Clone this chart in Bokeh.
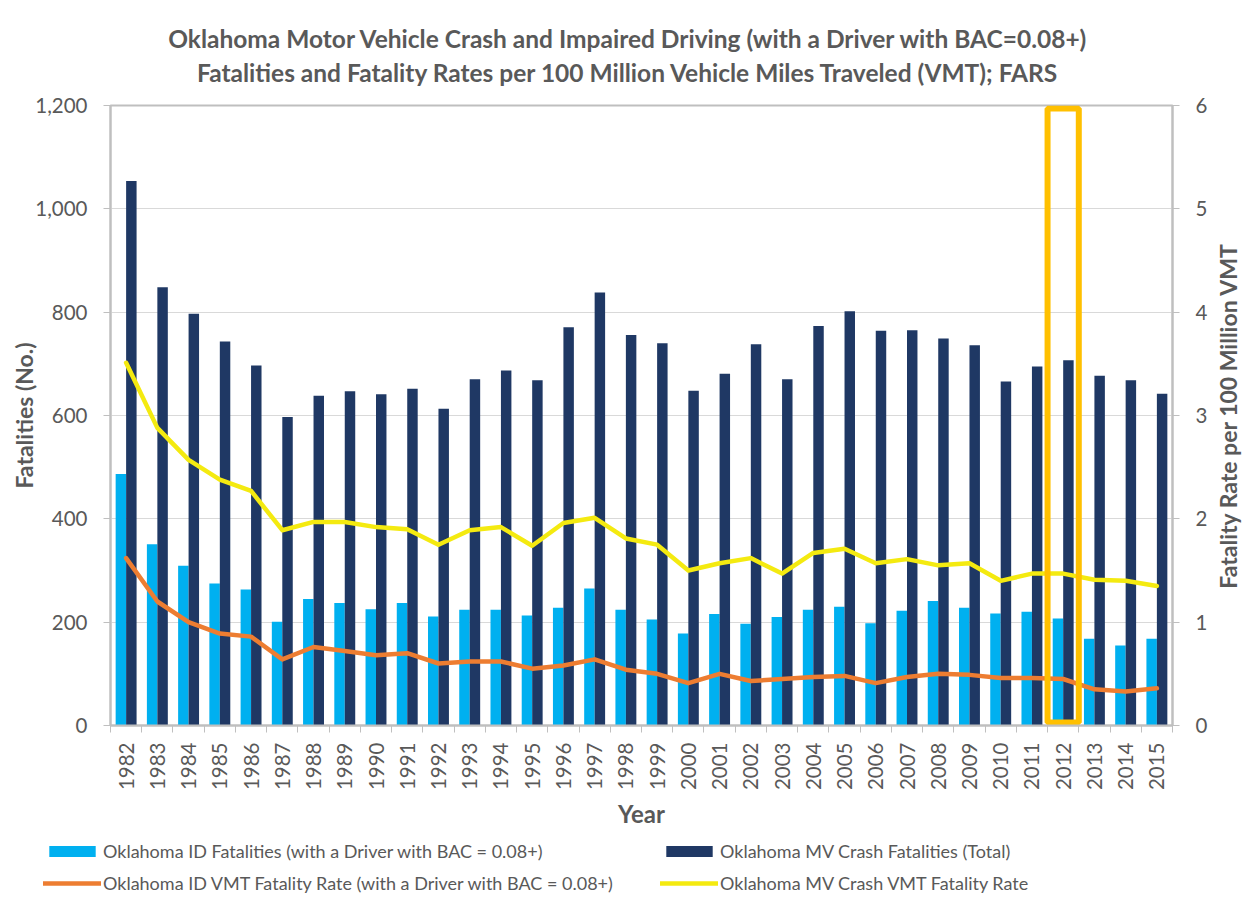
import math
from bokeh.plotting import figure
from bokeh.models import (Range1d, LinearAxis, FixedTicker, NumeralTickFormatter,
                          Legend, LegendItem, Label, ColumnDataSource)
from bokeh.transform import dodge
from bokeh.embed import file_html
from bokeh.resources import INLINE

# ---------------- data ----------------
years = [1982, 1983, 1984, 1985, 1986, 1987, 1988, 1989, 1990, 1991, 1992,
         1993, 1994, 1995, 1996, 1997, 1998, 1999, 2000, 2001, 2002, 2003,
         2004, 2005, 2006, 2007, 2008, 2009, 2010, 2011, 2012, 2013, 2014, 2015]
id_fatalities = [487, 351, 309, 275, 263, 201, 245, 237, 225, 237, 211,
                 224, 224, 213, 228, 265, 224, 205, 178, 216, 197, 210,
                 224, 230, 198, 222, 241, 228, 217, 220, 207, 168, 155, 168]
mv_fatalities = [1054, 848, 797, 743, 697, 597, 638, 647, 641, 652, 613,
                 670, 687, 668, 771, 838, 756, 740, 648, 681, 738, 670,
                 773, 802, 764, 765, 749, 736, 666, 695, 707, 677, 668, 642]
id_rate = [1.62, 1.20, 1.00, 0.89, 0.86, 0.64, 0.76, 0.72, 0.68, 0.70, 0.60,
           0.62, 0.62, 0.55, 0.58, 0.64, 0.54, 0.50, 0.41, 0.50, 0.43, 0.45,
           0.47, 0.48, 0.41, 0.47, 0.50, 0.49, 0.46, 0.46, 0.45, 0.35, 0.33, 0.36]
mv_rate = [3.51, 2.88, 2.57, 2.38, 2.27, 1.89, 1.97, 1.97, 1.92, 1.90, 1.75,
           1.89, 1.92, 1.74, 1.96, 2.01, 1.81, 1.75, 1.50, 1.57, 1.62, 1.47,
           1.67, 1.71, 1.57, 1.61, 1.55, 1.57, 1.40, 1.47, 1.47, 1.41, 1.40, 1.35]
highlight_years = [2012]
left_ticks = [0, 200, 400, 600, 800, 1000, 1200]
right_ticks = [0, 1, 2, 3, 4, 5, 6]
title_lines = ["Oklahoma Motor Vehicle Crash and Impaired Driving (with a Driver with BAC=0.08+)",
               "Fatalities and Fatality Rates per 100 Million Vehicle Miles Traveled (VMT); FARS"]
legend_labels = ["Oklahoma ID Fatalities (with a Driver with BAC = 0.08+)",
                 "Oklahoma MV Crash Fatalities (Total)",
                 "Oklahoma ID VMT Fatality Rate (with a Driver with BAC = 0.08+)",
                 "Oklahoma MV Crash VMT Fatality Rate"]
x_title = "Year"
y_title = "Fatalities (No.)"
y2_title = "Fatality Rate per 100 Million VMT"

# ---------------- style ----------------
FONT = "Lato"
TXT = "#595959"
AX = "#BFBFBF"
C_ID = "#00B0F0"
C_MV = "#1F3864"
C_IDR = "#ED7D31"
C_MVR = "#F4EA10"
C_HL = "#FFC000"
TICK_FS = "20.5px"
AXT_FS = "23px"
W = 1254
H_CHART = 832
H_LEG = 68

src = ColumnDataSource(dict(year=years, idf=id_fatalities, mvf=mv_fatalities,
                            idr=id_rate, mvr=mv_rate))

p = figure(width=W, height=H_CHART, output_backend="svg", toolbar_location=None,
           x_range=Range1d(years[0] - 0.5, years[-1] + 0.5),
           y_range=Range1d(left_ticks[0], left_ticks[-1]),
           min_border_left=110, min_border_right=W - 1172, min_border_top=105,
           min_border_bottom=H_CHART - 725)
p.extra_y_ranges = {"rate": Range1d(right_ticks[0], right_ticks[-1])}
p.background_fill_color = "white"
p.border_fill_color = "white"
p.outline_line_color = AX
p.outline_line_width = 2

bw = 0.335
bar_kw = dict(line_color=None)
line_kw = dict(line_width=4.5, line_cap="round", line_join="round")
p.vbar(x=dodge("year", -bw / 2), top="idf", width=bw, source=src, fill_color=C_ID, **bar_kw)
p.vbar(x=dodge("year", bw / 2), top="mvf", width=bw, source=src, fill_color=C_MV, **bar_kw)
p.line("year", "idr", source=src, y_range_name="rate", line_color=C_IDR, **line_kw)
p.line("year", "mvr", source=src, y_range_name="rate", line_color=C_MVR, **line_kw)

# highlight box around a year
inset = 3 * (left_ticks[-1] - left_ticks[0]) / 620.0
p.quad(left=[y - 0.5 for y in highlight_years], right=[y + 0.5 for y in highlight_years],
       bottom=[left_ticks[0] + inset] * len(highlight_years),
       top=[left_ticks[-1] - inset] * len(highlight_years),
       fill_color=None, line_color=C_HL, line_width=6)

# grid
p.xgrid.grid_line_color = None
p.ygrid.grid_line_color = "#D9D9D9"
p.ygrid.grid_line_width = 1

# x axis
xa = p.xaxis[0]
xa.ticker = FixedTicker(ticks=years, minor_ticks=[y - 0.5 for y in years] + [years[-1] + 0.5])
xa.major_label_overrides = {y: str(y) for y in years}
xa.major_tick_line_color = None
xa.major_tick_out = 0
xa.major_tick_in = 0
xa.minor_tick_out = 7
xa.minor_tick_in = 0
xa.minor_tick_line_color = AX
xa.axis_line_color = AX
xa.axis_line_width = 2
xa.major_label_orientation = math.pi / 2
xa.major_label_standoff = 10
xa.major_label_text_font = FONT
xa.major_label_text_font_size = TICK_FS
xa.major_label_text_color = TXT
xa.axis_label = x_title
xa.axis_label_standoff = 6
xa.axis_label_text_font = FONT
xa.axis_label_text_font_style = "bold"
xa.axis_label_text_font_size = "24px"
xa.axis_label_text_color = TXT

# left axis
ya = p.yaxis[0]
ya.ticker = FixedTicker(ticks=left_ticks)
ya.formatter = NumeralTickFormatter(format="0,0")
ya.major_tick_out = 7
ya.major_tick_in = 0
ya.minor_tick_line_color = None
ya.major_tick_line_color = AX
ya.axis_line_color = AX
ya.axis_line_width = 2
ya.major_label_standoff = 16
ya.major_label_text_font = FONT
ya.major_label_text_font_size = TICK_FS
ya.major_label_text_color = TXT
ya.axis_label = y_title
ya.axis_label_standoff = -6
ya.axis_label_text_font = FONT
ya.axis_label_text_font_style = "bold"
ya.axis_label_text_font_size = AXT_FS
ya.axis_label_text_color = TXT

# right axis (its title is a rotated label in the right panel)
ra = LinearAxis(y_range_name="rate", ticker=FixedTicker(ticks=right_ticks))
ra.major_tick_out = 7
ra.major_tick_in = 0
ra.minor_tick_line_color = None
ra.major_tick_line_color = AX
ra.axis_line_color = AX
ra.axis_line_width = 2
ra.major_label_standoff = 16
ra.major_label_text_font = FONT
ra.major_label_text_font_size = TICK_FS
ra.major_label_text_color = TXT
p.add_layout(ra, "right")
p.add_layout(Label(x=17, y=310, x_units="screen", y_units="screen", text=y2_title,
                   angle=math.pi / 2, text_align="center", text_baseline="middle",
                   text_font=FONT, text_font_style="bold", text_font_size=AXT_FS,
                   text_color=TXT), "right")

# two-line title, as labels in stacked panels above the plot area
for text, yy in zip(title_lines, [67, 4]):
    p.add_layout(Label(x=518, y=yy, x_units="screen", y_units="screen", text=text,
                       text_align="center", text_baseline="middle", text_font=FONT,
                       text_font_style="bold", text_font_size="24.5px",
                       text_color=TXT), "above")

# legend in a strip below the chart
lf = figure(width=W, height=H_LEG, output_backend="svg", toolbar_location=None,
            x_range=Range1d(0, 1), y_range=Range1d(0, 1),
            x_axis_location=None, y_axis_location=None, min_border=0,
            min_border_left=0, min_border_right=0, min_border_top=0, min_border_bottom=0)
lf.grid.visible = False
lf.outline_line_color = None
lf.background_fill_color = "white"
lf.border_fill_color = "white"
d1 = lf.vbar(x=[-10], top=[0], width=0.1, fill_color=C_ID, **bar_kw)
d2 = lf.vbar(x=[-10], top=[0], width=0.1, fill_color=C_MV, **bar_kw)
d3 = lf.line(x=[-10, -9], y=[0, 0], line_color=C_IDR, **line_kw)
d4 = lf.line(x=[-10, -9], y=[0, 0], line_color=C_MVR, **line_kw)
items = [LegendItem(label=legend_labels[0], renderers=[d1]),
         LegendItem(label=legend_labels[1], renderers=[d2]),
         LegendItem(label=legend_labels[2], renderers=[d3]),
         LegendItem(label=legend_labels[3], renderers=[d4])]
legend = Legend(items=items, location=(43, 6), orientation="horizontal", ncols=2,
                glyph_width=58, glyph_height=14, label_standoff=2, label_width=547,
                label_height=22, spacing=10, padding=0, margin=0,
                border_line_color=None, background_fill_alpha=0,
                label_text_font=FONT, label_text_font_size="18px", label_text_color=TXT)
lf.add_layout(legend, "center")

open("out.html", "w").write(file_html([p, lf], INLINE))
